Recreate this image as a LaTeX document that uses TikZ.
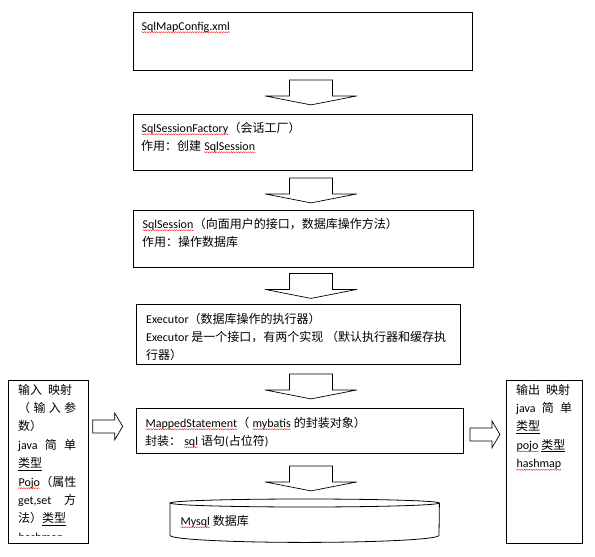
\documentclass[tikz,border=0pt]{standalone}
\usepackage{fontspec}
\setmainfont{Carlito}
\newfontfamily\cjk{Noto Sans CJK SC}
\usetikzlibrary{positioning, calc, decorations.pathmorphing}

\newcommand\zh[1]{{\cjk #1}}
\newcommand\boxfont{\fontsize{12}{18}\selectfont}
\newcommand\sidefont{\fontsize{12}{18.4}\selectfont}
\newcommand\spellmark[1]{\tikz[baseline=(w.base)]{\node[inner sep=0pt, anchor=base] (w) {#1};
  \draw[red, line width=0.35pt, decorate, decoration={snake, amplitude=0.5pt, segment length=2.4pt}]
    ([yshift=-2.2pt]w.base west) -- ([yshift=-2.2pt]w.base east);}}

\begin{document}
\begin{tikzpicture}[x=1pt, y=-1pt,
  box/.style={draw, line width=0.8pt, anchor=north west, inner sep=0pt},
  txt/.style={anchor=base west, inner sep=0pt, font=\boxfont},
  blk/.style={draw, line width=0.7pt, fill=white, line join=miter},
  darr/.pic={\draw[blk] (-21.5,-12.5) -- (21.5,-12.5) -- (21.5,3.5) -- (46,3.5) -- (0,12.5)
    -- (-46,3.5) -- (-21.5,3.5) -- cycle;},
  rarr/.pic={\draw[blk] (-15,-6.5) -- (7,-6.5) -- (7,-13.5) -- (15,0) -- (7,13.5)
    -- (7,6.5) -- (-15,6.5) -- cycle;}]
  \useasboundingbox (0,0) rectangle (595,557);

  % main column
  \node[box, minimum width=339pt, minimum height=58pt] (cfg) at (133,12) {};
  \node[box, minimum width=339pt, minimum height=56pt] (fac) at (133,114) {};
  \node[box, minimum width=340pt, minimum height=57pt] (ses) at (133,210) {};
  \node[box, minimum width=324pt, minimum height=60pt] (exe) at (136,304) {};
  \node[box, minimum width=327pt, minimum height=45pt] (ms) at (136,408) {};
  \node[anchor=north west, inner sep=0pt, minimum width=269pt, minimum height=32pt] (db) at (170,503) {};

  % side boxes
  \node[box, minimum width=80pt, minimum height=163pt] (inp) at (8,380) {};
  \node[box, minimum width=76pt, minimum height=163pt] (outp) at (506,380) {};

  \node[txt] (cfgt) at ([shift={(8,18)}]cfg.north west) {\spellmark{SqlMapConfig.xml}};
  \node[txt] (fact) at ([shift={(8,18)}]fac.north west) {\begin{tabular}[t]{@{}l@{}}
    \spellmark{SqlSessionFactory}\zh{（会话工厂）}\\
    \zh{作用：创建} \spellmark{SqlSession}
  \end{tabular}};
  \node[txt] (sest) at ([shift={(9,18)}]ses.north west) {\begin{tabular}[t]{@{}l@{}}
    \spellmark{SqlSession}\zh{（向面用户的接口，数据库操作方法）}\\
    \zh{作用：操作数据库}
  \end{tabular}};
  \node[txt] (exet) at ([shift={(10,19)}]exe.north west) {\begin{tabular}[t]{@{}l@{}}
    Executor\zh{（数据库操作的执行器）}\\
    Executor \zh{是一个接口，有两个实现} \zh{（默认执行器和缓存执}\\
    \zh{行器）}
  \end{tabular}};
  \node[txt] (mst) at ([shift={(9,19)}]ms.north west) {\begin{tabular}[t]{@{}l@{}}
    \spellmark{MappedStatement}\zh{（} \spellmark{mybatis} \zh{的封装对象）}\\
    \zh{封装：} \spellmark{sql} \zh{语句}(\zh{占位符})
  \end{tabular}};
  \node[txt] (dbt) at ([shift={(10,22)}]db.north west) {\spellmark{Mysql} \zh{数据库}};

  \begin{scope}
    \clip ([shift={(1,1)}]inp.north west) rectangle ([shift={(-1,-8.5)}]inp.south east);
    \node[txt, font=\sidefont] (inpt) at ([shift={(10,14)}]inp.north west) {\begin{tabular}[t]{@{}l@{}}
      \zh{输入}\hspace{6pt}\zh{映射}\\
      \makebox[58pt][s]{\zh{（} \zh{输} \zh{入} \zh{参}}\\
      \zh{数）}\\
      \makebox[58pt][s]{java \zh{简} \zh{单}}\\
      \zh{\underline{类型}}\\
      \spellmark{Pojo}\zh{（属性}\\
      \makebox[58pt][s]{get,set \zh{方}}\\
      \zh{法）\underline{类型}}\\
      \spellmark{hashmap}
    \end{tabular}};
  \end{scope}
  \node[txt, font=\sidefont] (outpt) at ([shift={(10,14)}]outp.north west) {\begin{tabular}[t]{@{}l@{}}
    \zh{输出}\hspace{6pt}\zh{映射}\\
    \makebox[56pt][s]{java \zh{简} \zh{单}}\\
    \zh{\underline{类型}}\\
    \spellmark{pojo} \zh{\underline{类型}}\\
    \spellmark{hashmap}
  \end{tabular}};

  % database cylinder
  \draw[line width=0.8pt] (db.north west) -- (db.south west)
    arc[start angle=180, end angle=0, x radius=134.5, y radius=7] -- (db.north east);
  \draw[line width=0.8pt] (db.north) ellipse[x radius=134.5, y radius=4];

  % block arrows
  \coordinate (ax) at (311,0);
  \foreach \a/\b in {cfg/fac, fac/ses, ses/exe, exe/ms, ms/db}
    \pic at ($(\a.south -| ax)!0.5!(\b.north -| ax)$) {darr};
  \pic[yshift=4.5pt] at ($(inp.east |- ms.west)!0.4!(ms.west)$) {rarr};
  \pic[yshift=-3.5pt] at ($(ms.east)!0.5!(outp.west |- ms.east)$) {rarr};
\end{tikzpicture}
\end{document}
